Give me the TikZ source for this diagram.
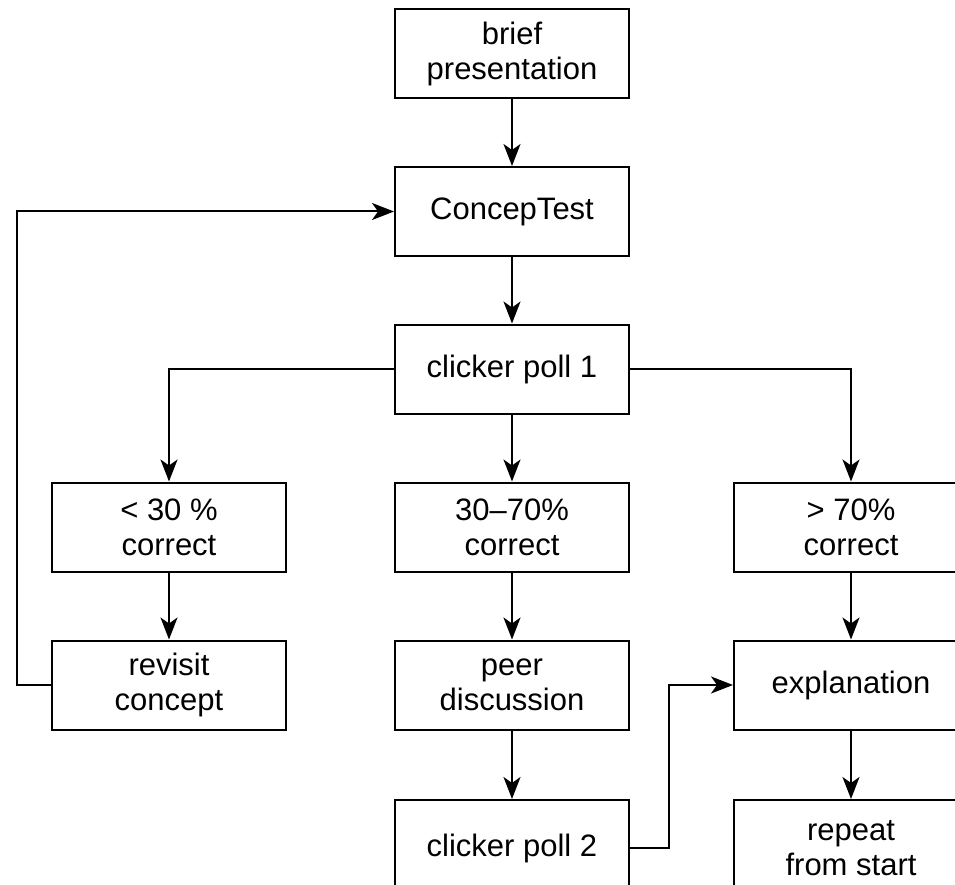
\documentclass[tikz,border=0pt]{standalone}
\usepackage{fontspec}
\setmainfont{Liberation Sans}
\usetikzlibrary{arrows.meta}
\begin{document}
\begin{tikzpicture}[x=1pt,y=-1pt,
  box/.style={draw, line width=2pt, minimum width=234pt, minimum height=89pt, inner sep=0pt, align=center, font=\fontsize{31}{35}\selectfont},
  lastbox/.style={box, minimum height=96pt},
  conn/.style={line width=2pt, -{Stealth[length=22pt,width=17pt,inset=6pt]}}]
\useasboundingbox (0,0) rectangle (955,885);
\clip (0,0) rectangle (955,885);
\node[box] (brief) at (512,54) {brief\\presentation};
\node[box] (concep) at (512,211.5) {ConcepTest};
\node[box] (poll1) at (512,369) {clicker poll 1};
\node[box] (low) at (169,527) {< 30 \%\\correct};
\node[box] (mid) at (512,527) {30--70\%\\correct};
\node[box] (high) at (851,527) {> 70\%\\correct};
\node[box] (revisit) at (169,685) {revisit\\concept};
\node[box] (peer) at (512,685) {peer\\discussion};
\node[box] (expl) at (851,685) {explanation};
\node[lastbox] (poll2) at (512,848) {clicker poll 2};
\node[lastbox] (rep) at (851,848) {repeat\\from start};
\draw[conn] (brief) -- (concep);
\draw[conn] (concep) -- (poll1);
\draw[conn] (poll1) -- (mid);
\draw[conn] (poll1.west) -| (low.north);
\draw[conn] (poll1.east) -| (high.north);
\draw[conn] (low) -- (revisit);
\draw[conn] (mid) -- (peer);
\draw[conn] (peer) -- (poll2);
\draw[conn] (high) -- (expl);
\draw[conn] (expl) -- (rep);
\draw[conn] (revisit.west) -- ++(-34,0) |- (concep.west);
\draw[conn] (poll2.east) -- ++(39,0) |- (expl.west);
\end{tikzpicture}
\end{document}
